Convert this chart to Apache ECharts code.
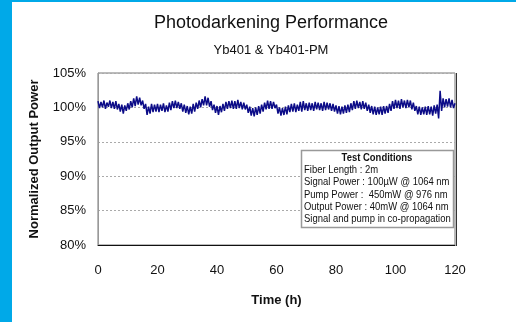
<!DOCTYPE html>
<html>
<head>
<meta charset="utf-8">
<script src="https://cdn.jsdelivr.net/npm/echarts@6/dist/echarts.min.js"></script>
<style>
  html, body { margin: 0; padding: 0; background: #fff; }
  #chart { width: 516px; height: 322px; }
</style>
</head>
<body>
<div id="chart"></div>
<script>
// normalized output power (%), one reading every half hour from 0 h to 120 h
const powerPct = [
  100.9, 99.9, 100.8, 100.0, 101.0, 99.8, 100.7, 100.1, 101.0, 99.9,
  100.8, 99.8, 100.9, 99.7, 100.5, 99.4, 100.4, 99.1, 100.3, 99.5,
  100.6, 99.7, 100.9, 100.0, 101.3, 100.2, 101.6, 100.4, 101.4, 100.3,
  101.0, 99.8, 100.5, 98.9, 100.1, 99.1, 100.5, 99.3, 100.4, 99.4,
  100.5, 99.3, 100.4, 99.5, 100.6, 99.3, 100.3, 99.4, 100.7, 99.6,
  100.9, 99.9, 101.0, 99.9, 100.8, 99.8, 100.6, 99.4, 100.4, 99.2,
  100.2, 99.0, 100.1, 99.1, 100.5, 99.4, 100.7, 99.8, 101.0, 100.0,
  101.2, 100.3, 101.6, 100.3, 101.4, 100.1, 100.9, 99.6, 100.4, 99.2,
  100.2, 98.9, 100.2, 99.3, 100.5, 99.5, 100.8, 99.8, 100.9, 99.9,
  101.0, 99.8, 100.9, 99.8, 101.1, 99.9, 100.8, 99.7, 100.7, 99.7,
  100.4, 99.2, 100.1, 98.8, 99.9, 98.7, 100.0, 98.9, 100.2, 99.1,
  100.4, 99.4, 100.7, 99.7, 101.0, 99.8, 100.9, 99.8, 100.8, 99.9,
  100.4, 99.1, 100.0, 98.8, 99.9, 98.9, 100.1, 99.0, 100.3, 99.3,
  100.5, 99.4, 100.6, 99.3, 100.4, 99.5, 100.8, 99.4, 100.9, 99.6,
  100.6, 99.5, 100.7, 99.6, 100.6, 99.5, 100.8, 99.7, 100.7, 99.6,
  100.6, 99.5, 100.8, 99.6, 100.7, 99.7, 100.6, 99.5, 100.5, 99.4,
  100.3, 99.1, 100.2, 99.0, 100.1, 99.1, 100.3, 99.2, 100.4, 99.3,
  100.6, 99.6, 100.9, 99.8, 101.0, 99.9, 100.8, 99.7, 100.9, 99.8,
  100.7, 99.5, 100.4, 99.2, 100.2, 99.0, 100.1, 98.9, 100.0, 99.0,
  100.1, 98.9, 100.2, 99.1, 100.2, 99.2, 100.5, 99.5, 100.9, 99.8,
  101.1, 99.9, 101.0, 99.8, 101.2, 100.0, 101.0, 99.9, 101.1, 100.0,
  101.0, 99.7, 100.7, 99.5, 100.2, 99.0, 100.1, 98.9, 100.0, 99.0,
  100.1, 98.9, 100.2, 99.0, 100.1, 98.8, 100.3, 99.1, 100.4, 98.4,
  102.4, 99.5, 101.3, 100.0, 101.2, 100.1, 101.3, 100.0, 101.1, 99.9,
  100.6
];
const stepHours = 0.5;
const xTicks = [0, 20, 40, 60, 80, 100, 120];
const yTicks = [80, 85, 90, 95, 100, 105];
const conditions = [
  'Fiber Length : 2m',
  'Signal Power : 100\u00b5W @ 1064 nm',
  'Pump Power :  450mW @ 976 nm',
  'Output Power : 40mW @ 1064 nm',
  'Signal and pump in co-propagation'
];

const font = 'Liberation Sans, Arial, sans-serif';
const points = powerPct.map((v, i) => [i * stepHours, v]);

const chart = echarts.init(document.getElementById('chart'), null, { renderer: 'canvas' });
chart.setOption({
  animation: false,
  backgroundColor: '#fff',
  title: [{
    text: 'Photodarkening Performance',
    left: 266, top: 9, textAlign: 'center',
    textStyle: { fontFamily: font, fontSize: 18, fontWeight: 'normal', color: '#111' }
  }, {
    text: 'Yb401 & Yb401-PM',
    left: 266, top: 39, textAlign: 'center',
    textStyle: { fontFamily: font, fontSize: 13, fontWeight: 'normal', color: '#111' }
  }],
  grid: {
    left: 98, top: 73, width: 357, height: 172,
    show: true, borderColor: '#777', borderWidth: 1
  },
  xAxis: {
    type: 'value', min: xTicks[0], max: xTicks[xTicks.length - 1], interval: 20,
    name: 'Time (h)', nameLocation: 'middle', nameGap: 49,
    nameTextStyle: { fontFamily: font, fontSize: 13, fontWeight: 'bold', color: '#111' },
    axisLine: { lineStyle: { color: '#111', width: 1 } },
    axisTick: { show: false },
    splitLine: { show: false },
    axisLabel: { fontFamily: font, fontSize: 13, color: '#111', margin: 19 }
  },
  yAxis: {
    type: 'value', min: yTicks[0], max: yTicks[yTicks.length - 1], interval: 5,
    name: 'Normalized Output Power', nameLocation: 'middle', nameGap: 57,
    nameTextStyle: { fontFamily: font, fontSize: 13, fontWeight: 'bold', color: '#111' },
    axisLine: { show: true, lineStyle: { color: '#999' } },
    axisTick: { show: false },
    splitLine: { show: true, lineStyle: { color: '#aaa', type: [2, 2], width: 1 } },
    axisLabel: { fontFamily: font, fontSize: 13, color: '#111', margin: 12, formatter: '{value}%' }
  },
  series: [{
    type: 'line',
    data: points,
    symbol: 'none',
    lineStyle: { color: '#0c0c88', width: 1.5 },
    z: 3
  }],
  graphic: [
    { type: 'rect', shape: { x: 0, y: 0, width: 12, height: 322 }, style: { fill: '#00a9e8' } },
    { type: 'rect', shape: { x: 0, y: 0, width: 516, height: 2 }, style: { fill: '#00a9e8' } },
    { type: 'rect', shape: { x: 456, y: 73, width: 1, height: 173 }, style: { fill: '#333' } },
    {
      type: 'rect', z: 10,
      shape: { x: 301.5, y: 150.5, width: 152, height: 77 },
      style: { fill: '#fff', stroke: '#999', lineWidth: 1.5 }
    },
    {
      type: 'text', z: 11, x: 377, y: 152, scaleX: 0.86,
      style: { text: 'Test Conditions', font: 'bold 11px ' + font, fill: '#111', align: 'center' }
    },
    {
      type: 'text', z: 11, x: 304, y: 164, scaleX: 0.86,
      style: { text: conditions.join('\n'), font: '11px ' + font, lineHeight: 12.2, fill: '#111' }
    }
  ]
});
</script>
</body>
</html>
